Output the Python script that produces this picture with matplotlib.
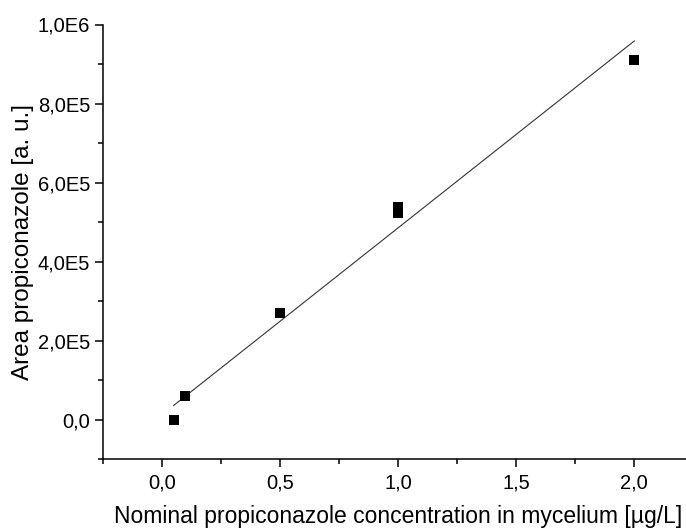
import numpy as np
import matplotlib
matplotlib.use("Agg")
import matplotlib.pyplot as plt
from matplotlib.ticker import MultipleLocator, FuncFormatter

# calibration data: nominal concentration vs. peak area
conc = [0.05, 0.1, 0.5, 1.0, 1.0, 2.0]
area = [0.0, 5.9e4, 2.7e5, 5.38e5, 5.22e5, 9.1e5]

# linear calibration fit (slope, intercept) and its drawn range
fit_slope = 4.73e5
fit_intercept = 1.24e4
fit_range = [0.05, 2.0]

plt.rcParams["font.family"] = ["Liberation Sans", "DejaVu Sans"]

fig = plt.figure(figsize=(6.86, 5.29), dpi=100)
W, H = 686, 529
left, right = 102.7, 693.4
top, bottom = 24.5, 459.3
ax = fig.add_axes([left / W, 1 - bottom / H, (right - left) / W, (bottom - top) / H])

xf = np.array(fit_range)
ax.plot(xf, fit_slope * xf + fit_intercept, color="#333333", lw=0.8, zorder=2)
ax.plot(conc, area, "s", color="black", ms=7.2, mew=0, zorder=3)

ax.set_xlim(-0.25, 2.25)
ax.set_ylim(-1e5, 1e6)

for s in ("top", "right"):
    ax.spines[s].set_visible(False)
for s in ("left", "bottom"):
    ax.spines[s].set_linewidth(1.1)

ax.xaxis.set_major_locator(MultipleLocator(0.5))
ax.xaxis.set_minor_locator(MultipleLocator(0.25))
ax.yaxis.set_major_locator(MultipleLocator(2e5))
ax.yaxis.set_minor_locator(MultipleLocator(1e5))

def xfmt(v, pos):
    return f"{v:.1f}".replace(".", ",")

def yfmt(v, pos):
    if abs(v) < 1:
        return "0,0"
    e = int(np.floor(np.log10(abs(v))))
    m = v / 10 ** e
    return f"{m:.1f}".replace(".", ",") + f"E{e}"

ax.xaxis.set_major_formatter(FuncFormatter(xfmt))
ax.yaxis.set_major_formatter(FuncFormatter(yfmt))

ax.tick_params(which="major", direction="out", length=6, width=1.1, labelsize=14.5)
ax.tick_params(which="minor", direction="out", length=3.5, width=1.1)
ax.tick_params(axis="x", which="major", pad=4)
ax.tick_params(axis="y", which="major", pad=3)

ax.set_xlabel("Nominal propiconazole concentration in mycelium [µg/L]", fontsize=16.5, labelpad=9)
ax.set_ylabel("Area propiconazole [a. u.]", fontsize=17.5, labelpad=3)

fig.savefig("out.png", dpi=100)
